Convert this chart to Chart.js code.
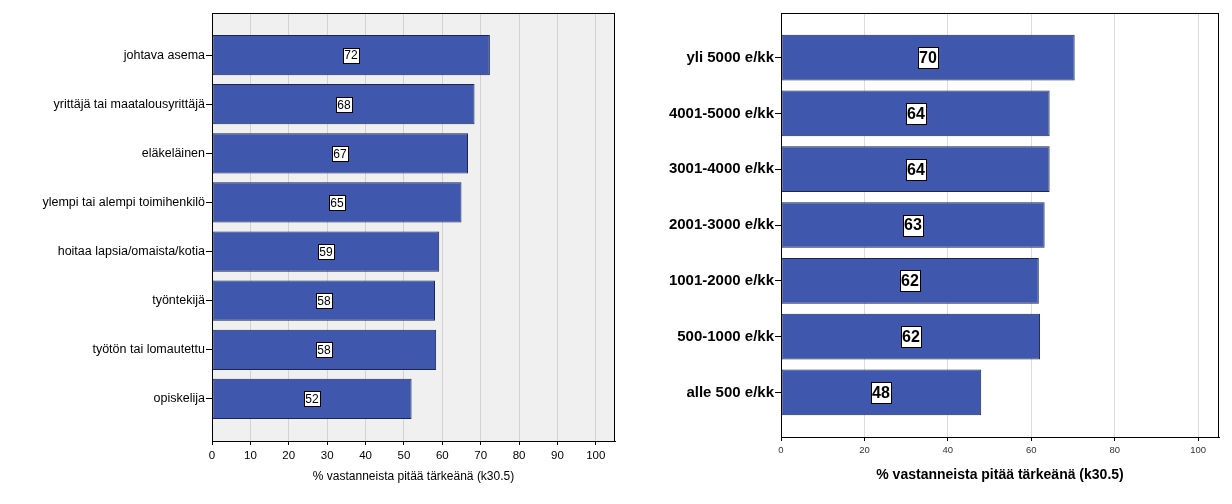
<!DOCTYPE html>
<html lang="fi">
<head>
  <meta charset="UTF-8" />
  <title>k30.5 – vastanneiden osuudet</title>
  <script src="https://cdn.jsdelivr.net/npm/chart.js"></script>
  <style>
    body { margin: 0; background: #fff; }
    .panel { position: absolute; top: 0; }
    #vasen { left: 0; }
    #oikea { left: 620px; }
  </style>
</head>
<body>
  <div class="panel" id="vasen"><canvas id="kuvaAmmatti" width="620" height="504"></canvas></div>
  <div class="panel" id="oikea"><canvas id="kuvaTulot" width="612" height="504"></canvas></div>

  <script>
    // vasen kuva: ammattiasema
    const ammatit = ['johtava asema', 'yrittäjä tai maatalousyrittäjä', 'eläkeläinen',
      'ylempi tai alempi toimihenkilö', 'hoitaa lapsia/omaista/kotia', 'työntekijä',
      'työtön tai lomautettu', 'opiskelija'];
    const ammattiArvot = [72.4, 68.4, 66.7, 65.0, 59.2, 58.1, 58.4, 52.0];
    const ammattiTicks = [0, 10, 20, 30, 40, 50, 60, 70, 80, 90, 100];

    // oikea kuva: tulot
    const tuloluokat = ['yli 5000 e/kk', '4001-5000 e/kk', '3001-4000 e/kk', '2001-3000 e/kk',
      '1001-2000 e/kk', '500-1000 e/kk', 'alle 500 e/kk'];
    const tuloArvot = [70.4, 64.4, 64.4, 63.2, 61.8, 62.1, 48.0];
    const tuloTicks = [0, 20, 40, 60, 80, 100];

    const otsikko = '% vastanneista pitää tärkeänä (k30.5)';
    const fontti = "'Liberation Sans', Arial, sans-serif";

    // taustaväri ja kehys piirtoalueelle
    const kehys = {
      id: 'kehys',
      beforeDraw(chart, args, opts) {
        const a = chart.chartArea;
        const ctx = chart.ctx;
        ctx.save();
        ctx.fillStyle = opts.tausta;
        ctx.fillRect(a.left, a.top, a.right - a.left, a.bottom - a.top);
        ctx.restore();
      },
      afterDraw(chart) {
        const a = chart.chartArea;
        const ctx = chart.ctx;
        ctx.save();
        ctx.strokeStyle = '#000';
        ctx.lineWidth = 1;
        ctx.strokeRect(Math.round(a.left) + 0.5, Math.round(a.top) + 0.5,
          Math.round(a.right - a.left) - 1, Math.round(a.bottom - a.top));
        ctx.restore();
      }
    };

    // arvot valkoisiin laatikoihin palkin keskelle
    const arvoLaput = {
      id: 'arvoLaput',
      afterDatasetsDraw(chart, args, opts) {
        const ctx = chart.ctx;
        const meta = chart.getDatasetMeta(0);
        const data = chart.data.datasets[0].data;
        ctx.save();
        ctx.font = opts.font;
        ctx.textAlign = 'center';
        ctx.textBaseline = 'middle';
        meta.data.forEach((bar, i) => {
          const p = bar.getProps(['x', 'y', 'base'], true);
          const teksti = String(Math.round(data[i].x));
          const cx = Math.round((p.x + p.base) / 2);
          const w = Math.ceil(ctx.measureText(teksti).width) + opts.padX * 2;
          const h = opts.korkeus;
          const x0 = Math.round(cx - w / 2) + 0.5;
          const y0 = Math.round(p.y - h / 2) + 0.5;
          ctx.fillStyle = '#fff';
          ctx.fillRect(x0, y0, w, h);
          ctx.strokeStyle = '#000';
          ctx.lineWidth = 1;
          ctx.strokeRect(x0, y0, w, h);
          ctx.fillStyle = '#000';
          ctx.fillText(teksti, cx, p.y + 1);
        });
        ctx.restore();
      }
    };

    function teeKuva(id, s) {
      const pisteet = s.arvot.map((v, i) => ({ x: v, y: i }));
      return new Chart(document.getElementById(id), {
        type: 'bar',
        data: {
          datasets: [{
            data: pisteet,
            backgroundColor: '#3f58ad',
            borderColor: '#1c2552',
            borderWidth: 1,
            borderSkipped: false,
            categoryPercentage: 1,
            barPercentage: 0.82
          }]
        },
        plugins: [kehys, arvoLaput],
        options: {
          indexAxis: 'y',
          responsive: false,
          animation: false,
          layout: { padding: { top: 13, right: s.oikea, left: 0, bottom: 0 } },
          plugins: {
            legend: { display: false },
            tooltip: { enabled: false },
            kehys: { tausta: s.tausta },
            arvoLaput: { font: s.arvoFontti, padX: s.padX, korkeus: s.lapunKorkeus }
          },
          scales: {
            x: {
              type: 'linear',
              min: 0,
              max: 105,
              afterFit: sc => { sc.height = s.xKorkeus; },
              afterBuildTicks: sc => { sc.ticks = s.ticks.map(v => ({ value: v })); },
              ticks: {
                includeBounds: false,
                autoSkip: false,
                maxRotation: 0,
                padding: 4,
                color: s.tickVari,
                font: { family: fontti, size: s.tickKoko }
              },
              grid: { color: s.ruudukko, tickColor: '#000', tickLength: 4, lineWidth: 1 },
              border: { display: true, color: '#000', width: 1 },
              title: {
                display: true,
                text: otsikko,
                color: '#000',
                padding: { top: 0, bottom: 20 },
                font: { family: fontti, size: s.otsikkoKoko, weight: s.otsikkoPaino }
              }
            },
            y: {
              type: 'linear',
              reverse: true,
              offset: false,
              min: -s.reuna,
              max: s.luokat.length - 1 + s.reuna,
              afterFit: sc => { sc.width = s.yLeveys; },
              afterBuildTicks: sc => { sc.ticks = s.luokat.map((c, i) => ({ value: i })); },
              ticks: {
                autoSkip: false,
                padding: 1,
                color: '#000',
                callback: v => s.luokat[v],
                font: { family: fontti, size: s.luokkaKoko, weight: s.luokkaPaino }
              },
              grid: { offset: false, drawOnChartArea: false, tickColor: '#000', tickLength: 6 },
              border: { display: true, color: '#000', width: 1 }
            }
          }
        }
      });
    }

    teeKuva('kuvaAmmatti', {
      luokat: ammatit, arvot: ammattiArvot, ticks: ammattiTicks,
      reuna: 0.857, oikea: 5, yLeveys: 212, xKorkeus: 63,
      tausta: '#f0f0f0', ruudukko: '#d2d2d2', tickVari: '#000', tickKoko: 11.5,
      luokkaKoko: 12.5, luokkaPaino: 'normal', otsikkoKoko: 12, otsikkoPaino: 'normal',
      arvoFontti: "12px 'Liberation Sans', Arial, sans-serif", padX: 1, lapunKorkeus: 15
    });

    teeKuva('kuvaTulot', {
      luokat: tuloluokat, arvot: tuloArvot, ticks: tuloTicks,
      reuna: 0.8, oikea: 13, yLeveys: 161, xKorkeus: 67,
      tausta: '#ffffff', ruudukko: '#dcdcdc', tickVari: '#333', tickKoko: 9.5,
      luokkaKoko: 15, luokkaPaino: 'bold', otsikkoKoko: 14, otsikkoPaino: 'bold',
      arvoFontti: "bold 16px 'Liberation Sans', Arial, sans-serif", padX: 1, lapunKorkeus: 21
    });
  </script>
</body>
</html>
